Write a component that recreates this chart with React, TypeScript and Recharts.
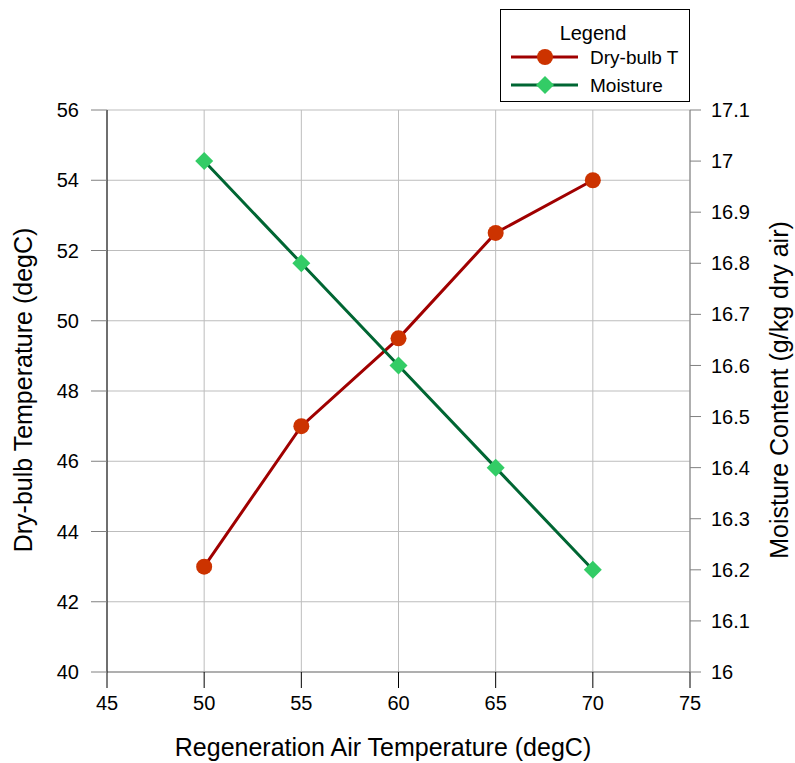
import React from "react";
import { LineChart, Line, XAxis, YAxis, CartesianGrid, Customized } from "recharts";

const regenTemps = [50, 55, 60, 65, 70];
const dryBulbT = [43, 47, 49.5, 52.5, 54];
const moisture = [17.0, 16.8, 16.6, 16.4, 16.2];

const xTicks = [45, 50, 55, 60, 65, 70, 75];
const leftTicks = [40, 42, 44, 46, 48, 50, 52, 54, 56];
const rightTicks = [16, 16.1, 16.2, 16.3, 16.4, 16.5, 16.6, 16.7, 16.8, 16.9, 17, 17.1];

const data = regenTemps.map((t, i) => ({ t, dry: dryBulbT[i], moist: moisture[i] }));

const FONT = "'Liberation Sans', Arial, sans-serif";
const DRY_LINE = "#a00000";
const DRY_MARK = "#cc3300";
const MOIST_LINE = "#006633";
const MOIST_MARK = "#33cc66";

const Diamond = (props: any) => {
  const { cx, cy } = props;
  if (cx == null || cy == null) return null;
  const r = 9;
  return (
    <path
      d={`M${cx},${cy - r}L${cx + r},${cy}L${cx},${cy + r}L${cx - r},${cy}Z`}
      fill={MOIST_MARK}
      stroke="none"
    />
  );
};

const Dot = (props: any) => {
  const { cx, cy } = props;
  if (cx == null || cy == null) return null;
  return <circle cx={cx} cy={cy} r={8} fill={DRY_MARK} stroke="none" />;
};

const Overlay = () => (
  <g fontFamily={FONT}>
    <text x={383} y={756} textAnchor="middle" fontSize={25} fill="#000">
      Regeneration Air Temperature (degC)
    </text>
    <text
      x={32}
      y={390}
      textAnchor="middle"
      fontSize={25}
      fill="#000"
      transform="rotate(-90 32 390)"
    >
      Dry-bulb Temperature (degC)
    </text>
    <text
      x={788}
      y={390}
      textAnchor="middle"
      fontSize={25}
      fill="#000"
      transform="rotate(-90 788 390)"
    >
      Moisture Content (g/kg dry air)
    </text>
    <rect x={500.5} y={9.5} width={189} height={92} fill="#fff" stroke="#000" strokeWidth={1} />
    <text x={593} y={40} textAnchor="middle" fontSize={20} fill="#000">
      Legend
    </text>
    <line x1={511} y1={57} x2={578} y2={57} stroke={DRY_LINE} strokeWidth={3} />
    <circle cx={545} cy={57} r={8} fill={DRY_MARK} />
    <text x={590} y={64} fontSize={19} fill="#000">Dry-bulb T</text>
    <line x1={511} y1={85} x2={578} y2={85} stroke={MOIST_LINE} strokeWidth={3} />
    <path d="M545,76L554,85L545,94L536,85Z" fill={MOIST_MARK} />
    <text x={590} y={92} fontSize={19} fill="#000">Moisture</text>
  </g>
);

const fmt = (v: number) => String(Math.round(v * 10) / 10);

export default function App() {
  return (
    <div style={{ position: "absolute", left: 0, top: 0, background: "#fff" }}>
      <LineChart
        width={795}
        height={763}
        data={data}
        margin={{ top: 110, right: 25, left: 47, bottom: 51 }}
      >
        <CartesianGrid yAxisId="left" stroke="#bdbdbd" strokeWidth={1} />
        <XAxis
          dataKey="t"
          type="number"
          domain={[45, 75]}
          ticks={xTicks}
          height={40}
          tickSize={16}
          axisLine={{ stroke: "#808080" }}
          tickLine={{ stroke: "#000" }}
          tick={{ fill: "#000", fontSize: 20, fontFamily: FONT }}
          tickMargin={8}
        />
        <YAxis
          yAxisId="left"
          domain={[40, 56]}
          ticks={leftTicks}
          width={60}
          tickSize={16}
          axisLine={{ stroke: "#000" }}
          tickLine={{ stroke: "#808080" }}
          tick={{ fill: "#000", fontSize: 20, fontFamily: FONT }}
          tickMargin={12}
        />
        <YAxis
          yAxisId="right"
          orientation="right"
          domain={[16, 17.1]}
          ticks={rightTicks}
          tickFormatter={fmt}
          width={80}
          tickSize={11}
          axisLine={{ stroke: "#808080" }}
          tickLine={{ stroke: "#808080" }}
          tick={{ fill: "#000", fontSize: 20, fontFamily: FONT }}
          tickMargin={10}
        />
        <Line
          yAxisId="left"
          dataKey="dry"
          stroke={DRY_LINE}
          strokeWidth={3}
          dot={<Dot />}
          isAnimationActive={false}
        />
        <Line
          yAxisId="right"
          dataKey="moist"
          stroke={MOIST_LINE}
          strokeWidth={3}
          dot={<Diamond />}
          isAnimationActive={false}
        />
        <Customized component={Overlay} />
      </LineChart>
    </div>
  );
}
